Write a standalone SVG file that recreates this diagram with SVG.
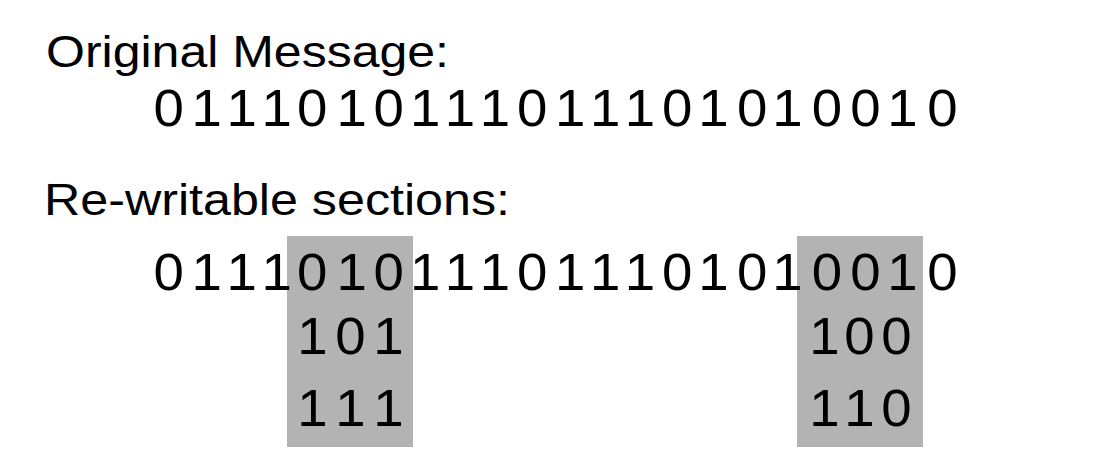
<svg xmlns="http://www.w3.org/2000/svg" width="1100" height="464" viewBox="0 0 1100 464">
<style>
.h{font-family:"Liberation Sans",Arial,sans-serif;font-size:45px;fill:#000}
.d{font-family:"Liberation Sans",Arial,sans-serif;font-size:52px;fill:#000}
.box{fill:#b3b3b3}
</style>
<rect width="1100" height="464" fill="#fff"/>
<g id="boxes">
<rect id="box1" class="box" x="287" y="236" width="126" height="211"/>
<rect id="box2" class="box" x="797" y="236" width="126" height="211"/>
</g>
<g id="original">
<text class="h" x="46" y="66.5" textLength="403" lengthAdjust="spacingAndGlyphs">Original Message:</text>
<g transform="scale(1.05 1)">
<text class="d" y="126.5" x="146.3 182.5 215.8 249.1 282.8 320.6 355.8 390.4 423.7 457 492.3 528.5 561.8 595.1 630.4 665 701.8 735.4 773 809.7 845 883">0111010111011101010010</text>
</g>
</g>
<g id="sections">
<text class="h" x="44" y="215" textLength="466" lengthAdjust="spacingAndGlyphs">Re-writable sections:</text>
<g transform="scale(1.05 1)">
<text class="d" y="290.5" x="146.3 182.5 215.8 249.1 282.8 320.6 355.8 390.4 423.7 457 492.3 528.5 561.8 595.1 630.4 665 701.8 735.4 773 809.7 845 883">0111010111011101010010</text>
<text class="d" y="354" x="283 319.2 355.4">101</text>
<text class="d" y="426" x="283 319.2 355.4">111</text>
<text class="d" y="354" x="770.7 804 839.2">100</text>
<text class="d" y="426" x="770.7 804 839.2">110</text>
</g>
</g>
</svg>
